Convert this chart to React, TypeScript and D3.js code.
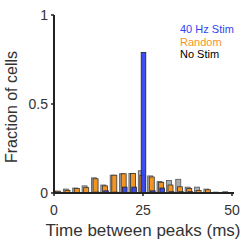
import * as d3 from 'd3'

// 19 bins between 0 and 50 ms
const binCount = 19
const stim40 = [0, 0, 0, 0, 0.005, 0.012, 0.005, 0.033, 0.033, 0.79, 0.012, 0.028, 0.007, 0.007, 0.007, 0, 0, 0, 0]
const random = [0.01, 0.015, 0.025, 0.03, 0.08, 0.04, 0.1, 0.108, 0.11, 0.1, 0.09, 0.06, 0.045, 0.035, 0.025, 0.014, 0.018, 0, 0]
const noStim = [0.01, 0.022, 0.028, 0.04, 0.085, 0.045, 0.1, 0.108, 0.11, 0.125, 0.096, 0.064, 0.07, 0.077, 0.033, 0.033, 0.022, 0.005, 0.007]
const xTicks = [0, 25, 50]
const yTicks = [0, 0.5, 1]
const legend = [
  { label: '40 Hz Stim', color: '#2f45f5' },
  { label: 'Random', color: '#f7931e' },
  { label: 'No Stim', color: '#000000' },
]

const App = () => {
  const x = d3.scaleLinear().domain([0, 50]).range([54, 232])
  const y = d3.scaleLinear().domain([0, 1]).range([193, 15])
  const binW = 50 / binCount
  const center = (i: number) => x((i + 0.5) * binW)
  const font = 'Liberation Sans, Arial, sans-serif'

  const series = [
    { values: noStim, fill: '#a6a6a6', stroke: '#555', dx: -2.2, w: 5 },
    { values: random, fill: '#f7931e', stroke: '#333', dx: -0.6, w: 5 },
    { values: stim40, fill: '#2f45f5', stroke: '#222', dx: 0.5, w: 4.6 },
  ]

  return (
    <svg width={250} height={251} style={{ position: 'absolute', left: 0, top: 0, fontFamily: font }}>
      {series.map((s, si) => (
        <g key={si}>
          {s.values.map((v, i) => v > 0 && (
            <rect
              key={i}
              x={center(i) + s.dx - s.w / 2}
              y={y(v)}
              width={s.w}
              height={y(0) - y(v)}
              fill={s.fill}
              stroke={s.stroke}
              strokeWidth={0.8}
              fillOpacity={0.95}
            />
          ))}
        </g>
      ))}
      {/* axes */}
      <path d={`M ${x(0)} ${y(1)} V ${y(0)} H ${x(50) + 2}`} fill="none" stroke="#222" strokeWidth={2} />
      {yTicks.map(t => (
        <g key={t} transform={`translate(${x(0)}, ${y(t)})`}>
          <line x1={-3} x2={0} stroke="#222" strokeWidth={1.5} />
          <text x={-6} dy="0.35em" textAnchor="end" fontSize={14} fill="#333">{t}</text>
        </g>
      ))}
      {xTicks.map(t => (
        <g key={t} transform={`translate(${x(t)}, ${y(0)})`}>
          <line y2={3} stroke="#222" strokeWidth={1.5} />
          <text y={22} textAnchor="middle" fontSize={14} fill="#333">{t}</text>
        </g>
      ))}
      <text x={143} y={236} textAnchor="middle" fontSize={17} fill="#333">Time between peaks (ms)</text>
      <text transform={`translate(17, 107) rotate(-90)`} textAnchor="middle" fontSize={16} fill="#333">Fraction of cells</text>
      {legend.map((l, i) => (
        <text key={l.label} x={180} y={33 + i * 12.5} fontSize={11} fill={l.color}>{l.label}</text>
      ))}
    </svg>
  )
}

export default App
